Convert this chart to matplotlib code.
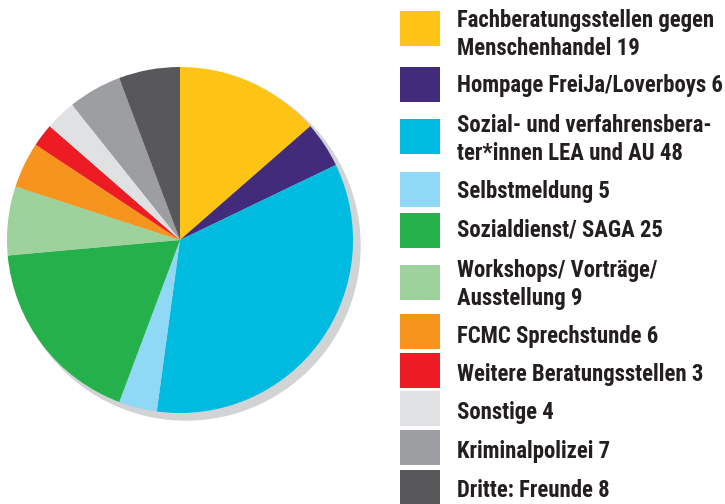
import matplotlib
matplotlib.use("Agg")
import matplotlib.pyplot as plt
from matplotlib.patches import Circle, Rectangle

labels = [
    "Fachberatungsstellen gegen\nMenschenhandel 19",
    "Hompage FreiJa/Loverboys 6",
    "Sozial- und verfahrensbera-\nter*innen LEA und AU 48",
    "Selbstmeldung 5",
    "Sozialdienst/ SAGA 25",
    "Workshops/ Vorträge/\nAusstellung 9",
    "FCMC Sprechstunde 6",
    "Weitere Beratungsstellen 3",
    "Sonstige 4",
    "Kriminalpolizei 7",
    "Dritte: Freunde 8",
]
values = [19, 6, 48, 5, 25, 9, 6, 3, 4, 7, 8]
colors = ["#FDC315", "#432B7C", "#00BBE0", "#8FD8F6", "#24B14B", "#9DD29C",
          "#F7941E", "#ED1C24", "#E0E1E3", "#9D9EA2", "#58585B"]

family = ["Roboto Condensed", "DejaVu Sans"]

W, H = 725, 504
fig = plt.figure(figsize=(W / 100, H / 100), dpi=100)
ax = fig.add_axes([0, 0, 1, 1])

cx, cy, r = 180, H - 240, 173
ax.add_patch(Circle((cx + 6, cy - 6), r + 1, color="#D1D3D4", zorder=0))
ax.pie(values, colors=colors, startangle=90, counterclock=False,
       center=(cx, cy), radius=r, wedgeprops=dict(linewidth=0))
ax.set_xlim(0, W)
ax.set_ylim(0, H)
ax.set_aspect("equal")
ax.axis("off")

sq_top = [11, 67, 119, 172, 213, 265, 314, 353, 391, 430, 470]
baselines = [27, 92, 132, 198, 237, 277, 343, 381, 419, 458, 497]
for lab, col, top, bl in zip(labels, colors, sq_top, baselines):
    ax.add_patch(Rectangle((400, H - top - 35), 40, 35, color=col, linewidth=0))
    for k, line in enumerate(lab.split("\n")):
        ax.text(457, H - (bl + 28 * k), line, ha="left", va="baseline",
                fontsize=16.4, fontweight="bold", family=family, color="#231F20")

fig.savefig("out.png", dpi=100)
